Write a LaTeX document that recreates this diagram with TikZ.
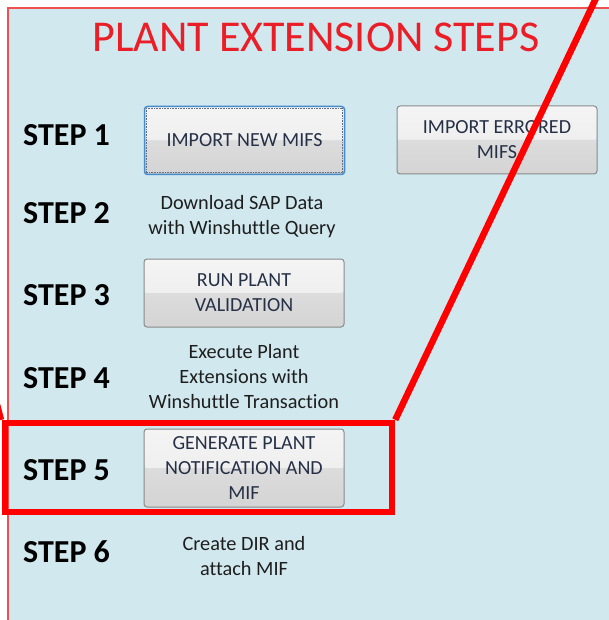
\documentclass[tikz,border=0pt]{standalone}
\usepackage{fontspec}
\setmainfont{Carlito}[Ligatures=NoCommon]
\definecolor{panel}{RGB}{208,232,238}
\definecolor{panelborder}{RGB}{240,80,80}
\definecolor{btnborder}{RGB}{138,138,138}
\definecolor{btnsel}{RGB}{70,140,205}
\definecolor{btntext}{RGB}{38,48,70}
\definecolor{hiup}{RGB}{244,244,244}
\definecolor{himid}{RGB}{234,234,234}
\definecolor{lomid}{RGB}{220,220,220}
\definecolor{lodown}{RGB}{212,212,212}
\definecolor{titlered}{RGB}{235,30,40}
\definecolor{desctext}{RGB}{30,30,30}
\tikzset{
  x=1pt, y=-1pt,
  btn/.style={draw=btnborder, line width=1pt, rounded corners=3pt,
    minimum width=200pt, minimum height=68pt, align=center, inner sep=0pt,
    font=\fontsize{20}{25}\selectfont, text=btntext,
    path picture={
      \shade[top color=hiup, bottom color=himid]
        (path picture bounding box.north west) rectangle (path picture bounding box.east);
      \shade[top color=lomid, bottom color=lodown]
        (path picture bounding box.west) rectangle (path picture bounding box.south east);
    }},
  steplabel/.style={anchor=west, font=\fontsize{32}{32}\selectfont\bfseries, text=black, inner sep=0pt},
  desc/.style={align=center, font=\fontsize{20.3}{25}\selectfont, text=desctext, inner sep=0pt},
  redmark/.style={draw=red, line width=6.5pt},
}
\begin{document}
\begin{tikzpicture}
\useasboundingbox (0,0) rectangle (609,620);
\clip (0,0) rectangle (609,620);
\fill[white] (0,0) rectangle (609,620);
\draw[fill=panel, draw=panelborder, line width=1.5pt] (8,8) rectangle (640,650);

\node[font=\fontsize{44}{44}\selectfont, text=titlered, inner sep=0pt] (title) at (316,37) {PLANT EXTENSION STEPS};

\node[steplabel] (s1) at (23,135) {STEP 1};
\node[steplabel] (s2) at (23,213) {STEP 2};
\node[steplabel] (s3) at (23,295) {STEP 3};
\node[steplabel] (s4) at (23,378) {STEP 4};
\node[steplabel] (s5) at (23,470) {STEP 5};
\node[steplabel] (s6) at (23,552) {STEP 6};

\node[btn, draw=btnsel, line width=1.5pt] (b1) at (244.5,140.5) {IMPORT NEW MIFS};
\draw[btntext!70, densely dotted, line width=0.6pt] ([shift={(2.5,2.5)}]b1.north west) rectangle ([shift={(-2.5,-2.5)}]b1.south east);
\node[btn] (b2) at (497,140) {IMPORT ERRORED\\MIFS};
\node[desc] (d2) at (242,216.5) {Download SAP Data\\with Winshuttle Query};
\node[btn] (b3) at (244,293) {RUN PLANT\\VALIDATION};
\node[desc] (d4) at (244,377) {Execute Plant\\Extensions with\\Winshuttle Transaction};
\node[btn, minimum height=78pt] (b5) at (244,468) {GENERATE PLANT\\NOTIFICATION AND\\MIF};
\node[desc] (d6) at (244,556) {Create DIR and\\attach MIF};

\node[redmark, minimum width=387pt, minimum height=89pt, inner sep=0pt] (hl) at (198.5,467.5) {};
\coordinate (topend) at (598,-6);
\coordinate (leftend) at (-4,398);
\draw[redmark, line cap=butt] (hl.north east) -- (topend);
\draw[redmark, line width=5pt] (leftend) -- (hl.north west);
\end{tikzpicture}
\end{document}
